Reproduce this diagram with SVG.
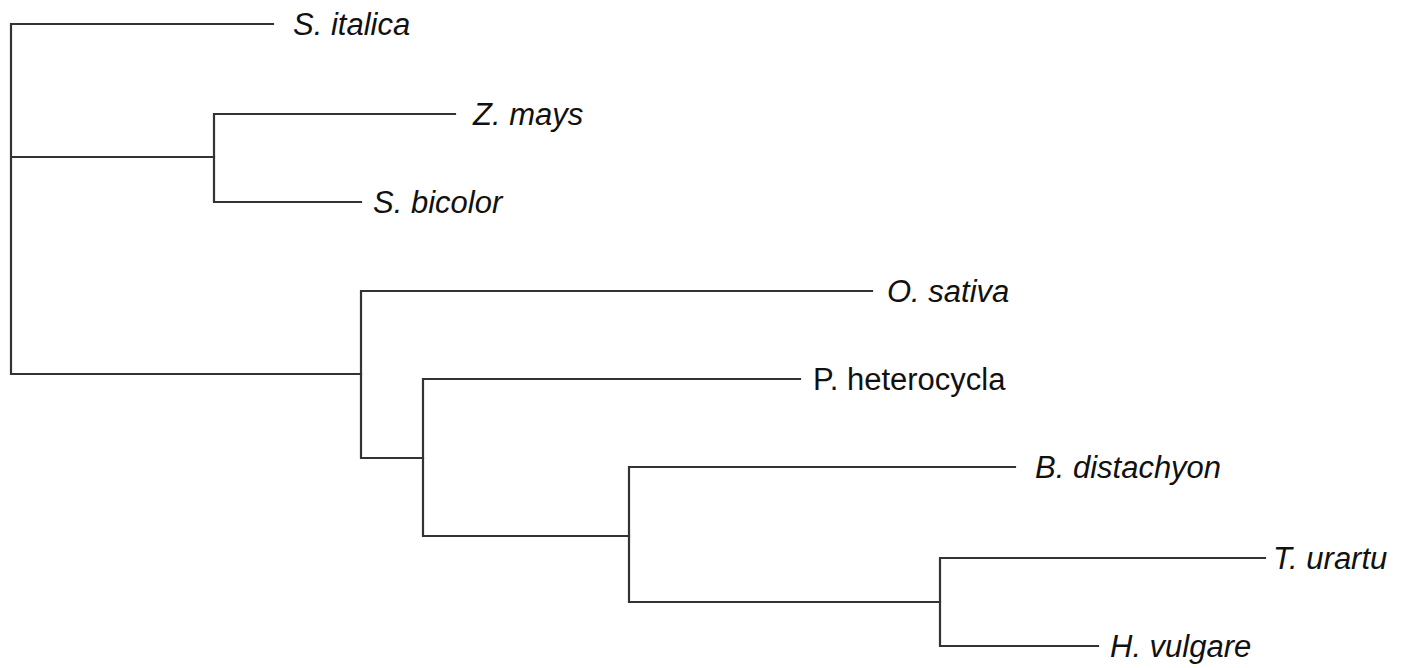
<svg xmlns="http://www.w3.org/2000/svg" width="1409" height="668" viewBox="0 0 1409 668">
<style>
.e{fill:none;stroke:#333;stroke-width:2.2;stroke-linecap:square}
.t{font-family:"Liberation Sans",Arial,sans-serif;font-size:31px;fill:#111;font-style:italic}
.u{font-style:normal}
</style>
<rect width="1409" height="668" fill="#fff"/>
<g id="connectors">
<path class="e" d="M11,24V374M11,24H273M11,157H214M11,374H361"/>
<path class="e" d="M214,114V202M214,114H455M214,202H361"/>
<path class="e" d="M361,291V458M361,291H872M361,458H423"/>
<path class="e" d="M423,379V536M423,379H800M423,536H629"/>
<path class="e" d="M629,467V602M629,467H1015M629,602H940"/>
<path class="e" d="M940,558V646M940,558H1265M940,646H1098"/>
</g>
<g id="s-italica"><text class="t" x="293" y="35">S. italica</text></g>
<g id="z-mays"><text class="t" x="473" y="125">Z. mays</text></g>
<g id="s-bicolor"><text class="t" x="373" y="213">S. bicolor</text></g>
<g id="o-sativa"><text class="t" x="887" y="302">O. sativa</text></g>
<g id="p-heterocycla"><text class="t u" x="813" y="390">P. heterocycla</text></g>
<g id="b-distachyon"><text class="t" x="1035" y="478">B. distachyon</text></g>
<g id="t-urartu"><text class="t" x="1273" y="569">T. urartu</text></g>
<g id="h-vulgare"><text class="t" x="1110" y="657">H. vulgare</text></g>
</svg>
